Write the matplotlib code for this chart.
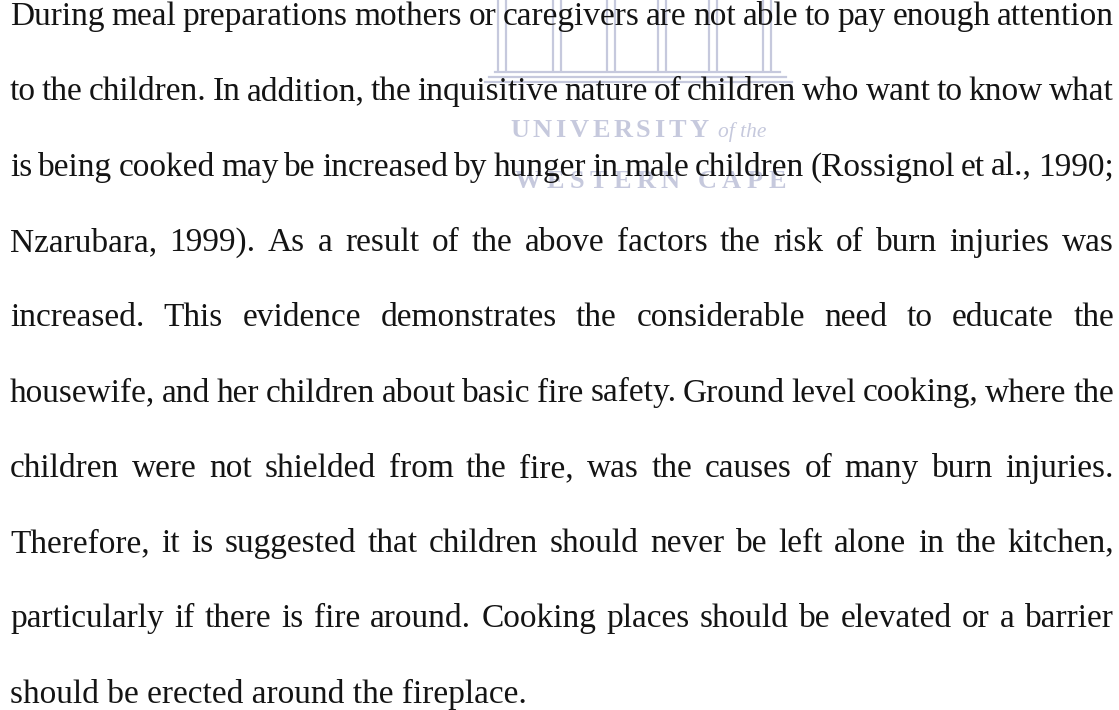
import matplotlib.pyplot as plt
from matplotlib.font_manager import FontProperties

# text of the scanned page, one entry per printed line
body_lines = [
    "During meal preparations mothers or caregivers are not able to pay enough attention",
    "to the children. In addition, the inquisitive nature of children who want to know what",
    "is being cooked may be increased by hunger in male children (Rossignol et al., 1990;",
    "Nzarubara, 1999). As a result of the above factors the risk of burn injuries was",
    "increased. This evidence demonstrates the considerable need to educate the",
    "housewife, and her children about basic fire safety. Ground level cooking, where the",
    "children were not shielded from the fire, was the causes of many burn injuries.",
    "Therefore, it is suggested that children should never be left alone in the kitchen,",
    "particularly if there is fire around. Cooking places should be elevated or a barrier",
    "should be erected around the fireplace.",
]

# faint university watermark behind the text
mark_word = "UNIVERSITY"
mark_small = "of the"
mark_bottom = "WESTERN CAPE"
column_x = [502, 557, 611, 662, 713, 767]
base_bars = [(495, 780, 72), (489, 786, 77), (485, 792, 82)]

W, H = 1119, 710
left, right = 10, 1114
first_baseline, line_step = 25, 75.3
ink = "#141414"
faint = "#c6c9dd"

plt.rcParams['font.family'] = 'Liberation Serif'

fig = plt.figure(figsize=(W / 100, H / 100), dpi=100)
ax = fig.add_axes([0, 0, 1, 1])
ax.set_xlim(0, W)
ax.set_ylim(H, 0)
ax.axis('off')

# watermark: columns and base
for cx in column_x:
    for dx in (-4, 4):
        ax.plot([cx + dx, cx + dx], [0, 70], color=faint, lw=1.6, zorder=0)
for x0, x1, yb in base_bars:
    ax.plot([x0, x1], [yb, yb], color=faint, lw=1.6, zorder=0)

fig.canvas.draw()
renderer = fig.canvas.get_renderer()


def measure(s, prop):
    w, _, _ = renderer.get_text_width_height_descent(s, prop, ismath=False)
    return w


def tracked(text, x, y, tracking, prop):
    # place characters one by one with extra spacing
    for ch in text:
        ax.text(x, y, ch, va='baseline', ha='left', fontproperties=prop,
                color=faint, zorder=0)
        x += measure(ch, prop) + tracking
    return x


bold = FontProperties(family='Liberation Serif', weight='bold', size=19)
ital = FontProperties(family='Liberation Serif', style='italic', size=15.5)
end = tracked(mark_word, 510, 137, 3.7, bold)
ax.text(end + 5, 137, mark_small, fontproperties=ital, color=faint,
        va='baseline', zorder=0)
tracked(mark_bottom, 515, 188, 5.5, bold)

body = FontProperties(family='Liberation Serif', size=24)

# justified body text: words spread between the left and right margins
for i, line in enumerate(body_lines):
    y = first_baseline + i * line_step
    if i == len(body_lines) - 1:
        ax.text(left, y, line, fontproperties=body, color=ink,
                va='baseline', zorder=2)
        continue
    words = line.split()
    widths = [measure(w, body) for w in words]
    gap = (right - left - sum(widths)) / (len(words) - 1)
    x = left
    for w, ww in zip(words, widths):
        ax.text(x, y, w, fontproperties=body, color=ink,
                va='baseline', zorder=2)
        x += ww + gap

fig.savefig("out.png", dpi=100, facecolor="white")
